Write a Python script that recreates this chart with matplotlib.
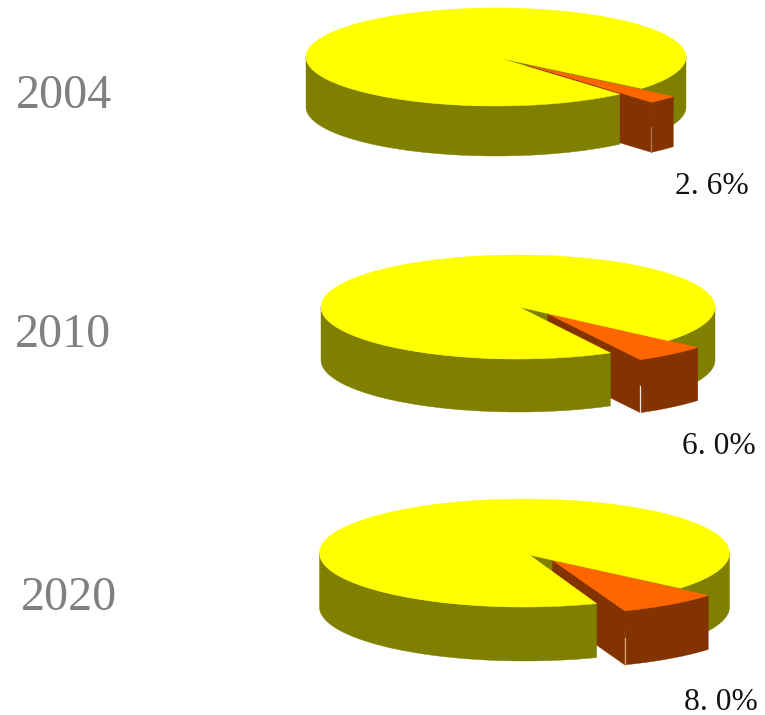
import numpy as np
import matplotlib
matplotlib.use("Agg")
import matplotlib.pyplot as plt

years = ["2004", "2010", "2020"]
shares = [2.6, 6.0, 8.0]
share_labels = ["2. 6%", "6. 0%", "8. 0%"]

YELLOW, OLIVE = "#FFFF00", "#808000"
ORANGE, BROWN = "#FF6600", "#833300"

# layout of each disc in pixels: centre x, centre y, x radius, y radius, depth
discs = [(496, 57, 190, 49, 50), (518, 307, 197, 52, 53), (524.5, 553, 205, 54, 54)]
starts = [40.0, 40.4, 40.6]
# how far the slice is pulled out, in units of the radii
pulls = [(0.167, 0.166), (0.151, 0.130), (0.137, 0.135)]
# where the slices meet on the top face, relative to the disc centre, in pixels
hubs = [(3, 1), (1, 0), (5, 2)]
year_pos = [(16, 96), (15, 335), (21, 598)]
label_pos = [(675, 186), (682, 447), (684, 702)]
corner_colors = ["#B07A50", "#F0E8E0", "#E0A070"]

fig = plt.figure(figsize=(7.65, 7.15), dpi=100, facecolor="white")
ax = fig.add_axes([0, 0, 1, 1])
ax.set_xlim(0, 765)
ax.set_ylim(715, 0)
ax.axis("off")


def rim(cx, cy, rx, ry, a0, a1, dx=0.0, dy=0.0):
    t = np.radians(np.linspace(a0, a1, max(int(abs(a1 - a0) * 2), 2)))
    return cx + dx * rx + rx * np.cos(t), cy + dy * ry + ry * np.sin(t)


def wall(ax, x, y, depth, color, z):
    px = np.r_[x, x[::-1]]
    py = np.r_[y, y[::-1] + depth]
    ax.fill(px, py, color=color, lw=0.3, zorder=z)


for share, (cx, cy, rx, ry, d), a0, (dx, dy), (hx, hy), cc in zip(
    shares, discs, starts, pulls, hubs, corner_colors
):
    a1 = a0 + share * 3.6
    px, py = cx + hx, cy + hy

    # right-hand wall and the far cut face of the gap
    x, y = rim(cx, cy, rx, ry, 0, a0)
    wall(ax, x, y, d, OLIVE, 1)
    ax.fill([px, x[-1], x[-1], px], [py, y[-1], y[-1] + d, py + d], color=OLIVE, lw=0.3, zorder=1)
    gx, gy = rim(cx, cy, rx, ry, a0, a1)
    ax.fill(np.r_[px, gx], np.r_[py, gy], color=OLIVE, lw=0.3, zorder=1)

    # pulled-out slice
    sx, sy = rim(cx, cy, rx, ry, a0, a1, dx, dy)
    ax0, ay0 = cx + dx * rx, cy + dy * ry
    ax.fill([ax0, sx[-1], sx[-1], ax0], [ay0, sy[-1], sy[-1] + d, ay0 + d], color=BROWN, lw=0.3, zorder=2)
    wall(ax, sx, sy, d, BROWN, 3)
    ax.fill(np.r_[ax0, sx], np.r_[ay0, sy], color=ORANGE, lw=0.3, zorder=4)
    ax.plot([sx[-1], sx[-1]], [sy[-1] + d * 0.5, sy[-1] + d], color=cc, lw=0.9, zorder=4)

    # left-hand wall and top of the remaining disc
    x, y = rim(cx, cy, rx, ry, a1, 180)
    wall(ax, x, y, d, OLIVE, 5)
    x, y = rim(cx, cy, rx, ry, a1, a0 + 360)
    ax.fill(np.r_[px, x], np.r_[py, y], color=YELLOW, lw=0.3, zorder=6)

for yr, (x, y) in zip(years, year_pos):
    ax.text(x, y, yr, family="Liberation Serif", fontsize=34.6, color="#808080", ha="left", va="center")
for lab, (x, y) in zip(share_labels, label_pos):
    ax.text(x, y, lab, family="Liberation Serif", fontsize=22.7, color="#111111", ha="left", va="center")

fig.savefig("out.png", dpi=100)
